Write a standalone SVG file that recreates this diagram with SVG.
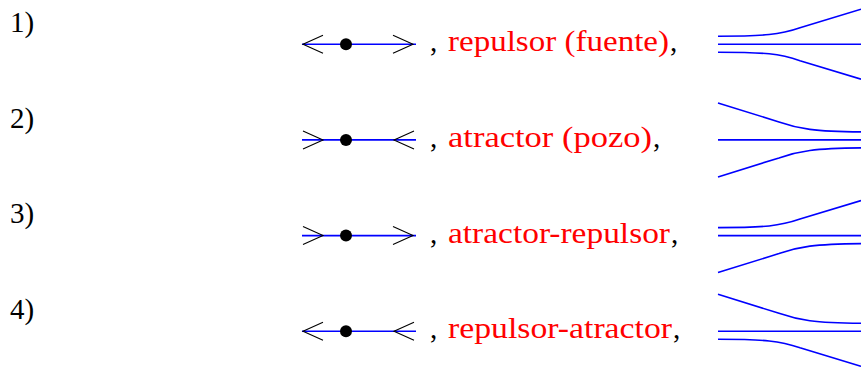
<svg xmlns="http://www.w3.org/2000/svg" width="861" height="367" viewBox="0 0 861 367">
<style>
.t{font-family:"Liberation Serif","DejaVu Serif",serif;font-size:29px;fill:#000}
.r{fill:#ff0000}
.bl{stroke:#0000ff;stroke-width:1.6;fill:none}
.ch{stroke:#000;stroke-width:1.1;fill:none}
</style>
<defs>
<path id="A" d="M718,-8 C765,-8 780,-9.5 800,-16.5 L861,-35" class="bl"/>
<path id="B" d="M718,-37 L779,-18 C799,-11 814,-8.5 861,-8" class="bl"/>
<path id="M" d="M718,0 L861,0" class="bl"/>
<path id="L" d="M323,-9 L303,0 L323,9"/>
<path id="R" d="M303,-9 L323,0 L303,9"/>
</defs>
<g id="labels">
<text class="t" x="10" y="32">1)</text>
<text class="t" x="10" y="127.7">2)</text>
<text class="t" x="10" y="223.3">3)</text>
<text class="t" x="10" y="319">4)</text>
</g>
<g id="row1" transform="translate(0,44.2)">
<path class="bl" d="M302,0 L416,0"/>
<use href="#L" class="ch"/>
<use href="#L" class="ch" transform="translate(716,0) scale(-1,1)"/>
<circle cx="346" cy="0" r="6" fill="#000"/>
<text class="t" x="430" y="7">,</text>
<text class="t r" x="448" y="7" textLength="221" lengthAdjust="spacingAndGlyphs">repulsor (fuente)</text>
<text class="t" x="670" y="7">,</text>
<use href="#M"/><use href="#A"/><use href="#A" transform="scale(1,-1)"/>
</g>
<g id="row2" transform="translate(0,139.9)">
<path class="bl" d="M302,0 L416,0"/>
<use href="#R" class="ch"/>
<use href="#R" class="ch" transform="translate(717,0) scale(-1,1)"/>
<circle cx="346" cy="0" r="6" fill="#000"/>
<text class="t" x="430" y="7">,</text>
<text class="t r" x="448" y="7" textLength="204" lengthAdjust="spacingAndGlyphs">atractor (pozo)</text>
<text class="t" x="653" y="7">,</text>
<use href="#M"/><use href="#B"/><use href="#B" transform="scale(1,-1)"/>
</g>
<g id="row3" transform="translate(0,235.6)">
<path class="bl" d="M302,0 L416,0"/>
<use href="#R" class="ch"/>
<use href="#R" class="ch" transform="translate(90,0)"/>
<circle cx="346" cy="0" r="6" fill="#000"/>
<text class="t" x="430" y="7">,</text>
<text class="t r" x="448" y="7" textLength="222" lengthAdjust="spacingAndGlyphs">atractor-repulsor</text>
<text class="t" x="671" y="7">,</text>
<use href="#M"/><use href="#A"/><use href="#B" transform="scale(1,-1)"/>
</g>
<g id="row4" transform="translate(0,331.3)">
<path class="bl" d="M302,0 L416,0"/>
<use href="#L" class="ch"/>
<use href="#L" class="ch" transform="translate(91,0)"/>
<circle cx="346" cy="0" r="6" fill="#000"/>
<text class="t" x="430" y="7">,</text>
<text class="t r" x="448" y="7" textLength="224" lengthAdjust="spacingAndGlyphs">repulsor-atractor</text>
<text class="t" x="673" y="7">,</text>
<use href="#M"/><use href="#B"/><use href="#A" transform="scale(1,-1)"/>
</g>
</svg>
